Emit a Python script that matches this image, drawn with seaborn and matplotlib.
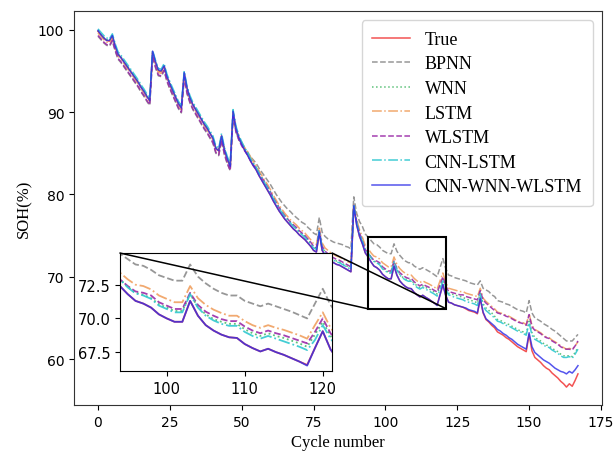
import numpy as np
import pandas as pd
import matplotlib
matplotlib.use("Agg")
import matplotlib.pyplot as plt
import seaborn as sns
from matplotlib.patches import Rectangle, ConnectionPatch

cycles = list(range(168))

true_soh = [
    99.8, 99.4, 99.0, 98.7, 98.6, 99.2, 98.0, 97.0, 96.6, 96.1,
    95.6, 95.1, 94.6, 94.1, 93.6, 93.0, 92.5, 91.9, 91.4, 97.3,
    96.0, 95.0, 94.9, 95.6, 94.3, 93.4, 92.6, 91.8, 91.0, 90.5,
    94.7, 92.8, 91.7, 90.9, 90.3, 89.7, 89.1, 88.5, 88.0, 87.4,
    86.8, 85.6, 85.3, 87.1, 85.4, 84.3, 83.4, 90.0, 88.0, 86.9,
    86.1, 85.4, 84.8, 84.1, 83.5, 83.0, 82.3, 81.7, 81.1, 80.5,
    79.9, 79.2, 78.6, 78.0, 77.5, 77.0, 76.6, 76.2, 75.8, 75.5,
    75.1, 74.8, 74.5, 74.1, 73.7, 73.2, 73.0, 75.3, 73.2, 72.6,
    72.2, 71.9, 71.7, 71.5, 71.4, 71.2, 71.0, 70.8, 70.6, 78.5,
    76.3, 74.9, 74.0, 72.9, 72.4, 71.8, 71.3, 71.1, 70.8, 70.3,
    70.0, 69.75, 69.75, 71.3, 70.2, 69.5, 69.1, 68.8, 68.6, 68.55,
    68.1, 67.8, 67.55, 67.75, 67.5, 67.3, 67.05, 66.8, 66.55, 67.8,
    69.05, 67.7, 66.9, 66.8, 66.6, 66.5, 66.4, 66.3, 66.1, 65.9,
    65.8, 65.7, 65.5, 67.3, 65.6, 64.8, 64.5, 64.1, 63.8, 63.3,
    63.1, 62.9, 62.6, 62.4, 62.1, 61.8, 61.5, 61.3, 61.1, 60.9,
    63.0, 61.0, 60.2, 59.9, 59.6, 59.2, 58.9, 58.7, 58.3, 58.0,
    57.7, 57.3, 57.0, 56.6, 57.0, 56.7, 57.4, 58.2,
]

bpnn = [
    99.2, 98.8, 98.4, 98.1, 98.0, 98.6, 97.4, 96.4, 96.0, 95.5,
    95.0, 94.5, 94.0, 93.5, 93.0, 92.4, 91.9, 91.3, 90.8, 96.7,
    95.4, 94.4, 94.3, 95.0, 93.7, 92.8, 92.0, 91.2, 90.4, 89.9,
    94.1, 92.2, 91.1, 90.3, 89.7, 89.1, 88.5, 87.9, 87.4, 86.8,
    86.2, 85.0, 84.7, 86.5, 84.8, 83.7, 82.9, 89.4, 87.6, 86.7,
    86.1, 85.6, 85.2, 84.6, 84.2, 83.8, 83.2, 82.7, 82.2, 81.7,
    81.2, 80.6, 80.0, 79.5, 79.0, 78.6, 78.2, 77.9, 77.5, 77.2,
    76.9, 76.6, 76.4, 76.0, 75.7, 75.3, 75.1, 77.2, 75.4, 74.9,
    74.6, 74.4, 74.2, 74.1, 74.0, 73.9, 73.7, 73.6, 73.4, 79.7,
    77.7, 76.7, 76.1, 75.2, 74.8, 74.4, 74.0, 73.9, 73.6, 73.2,
    73.0, 72.8, 72.8, 74.0, 73.1, 72.6, 72.2, 71.9, 71.7, 71.7,
    71.3, 71.1, 70.9, 71.1, 70.9, 70.7, 70.5, 70.25, 70.0, 71.1,
    72.2, 71.0, 70.2, 70.1, 69.9, 69.8, 69.7, 69.6, 69.5, 69.3,
    69.2, 69.1, 69.0, 69.5, 68.6, 68.4, 68.2, 67.8, 67.6, 67.1,
    67.0, 66.9, 66.7, 66.6, 66.4, 66.2, 66.0, 65.9, 65.8, 65.6,
    67.1, 65.6, 65.0, 64.8, 64.6, 64.3, 64.1, 63.9, 63.6, 63.4,
    63.1, 62.8, 62.5, 62.2, 62.2, 62.2, 62.6, 63.0,
]

wnn = [
    99.9, 99.5, 99.1, 98.8, 98.7, 99.3, 98.1, 97.1, 96.7, 96.2,
    95.7, 95.2, 94.7, 94.2, 93.7, 93.1, 92.6, 92.0, 91.5, 97.3,
    96.1, 95.1, 95.0, 95.6, 94.4, 93.5, 92.7, 91.9, 91.1, 90.6,
    94.7, 92.9, 91.8, 91.0, 90.4, 89.8, 89.2, 88.6, 88.1, 87.5,
    86.9, 85.7, 85.4, 87.1, 85.5, 84.4, 83.5, 90.0, 88.1, 87.0,
    86.3, 85.6, 85.0, 84.4, 83.8, 83.3, 82.6, 82.0, 81.5, 80.9,
    80.3, 79.6, 79.0, 78.4, 77.9, 77.4, 77.0, 76.6, 76.2, 75.9,
    75.5, 75.2, 74.9, 74.5, 74.1, 73.6, 73.4, 75.6, 73.6, 73.0,
    72.6, 72.3, 72.1, 71.9, 71.8, 71.6, 71.4, 71.2, 71.0, 78.7,
    76.7, 75.3, 74.4, 73.3, 72.9, 72.35, 71.9, 71.75, 71.5, 71.05,
    70.8, 70.55, 70.55, 71.8, 70.85, 70.3, 69.95, 69.75, 69.6, 69.6,
    69.2, 68.9, 68.7, 68.9, 68.7, 68.55, 68.35, 68.15, 67.9, 68.8,
    69.75, 68.7, 68.0, 67.9, 67.8, 67.7, 67.6, 67.5, 67.3, 67.2,
    67.1, 67.0, 66.8, 68.0, 66.7, 66.2, 65.9, 65.6, 65.2, 64.8,
    64.7, 64.5, 64.3, 64.2, 64.0, 63.8, 63.6, 63.4, 63.3, 63.1,
    64.6, 63.2, 62.6, 62.4, 62.2, 61.9, 61.7, 61.6, 61.3, 61.1,
    60.9, 60.6, 60.4, 60.4, 60.4, 60.3, 60.8, 61.4,
]

lstm = [
    99.6, 99.2, 98.8, 98.5, 98.4, 99.0, 97.8, 96.8, 96.4, 95.9,
    95.4, 94.9, 94.4, 93.9, 93.4, 92.8, 92.3, 91.7, 91.2, 97.1,
    95.8, 94.8, 94.7, 95.4, 94.1, 93.2, 92.4, 91.6, 90.8, 90.3,
    94.5, 92.6, 91.5, 90.7, 90.1, 89.5, 88.9, 88.3, 87.8, 87.2,
    86.6, 85.4, 85.1, 86.9, 85.2, 84.1, 83.3, 89.9, 88.0, 87.0,
    86.3, 85.7, 85.2, 84.6, 84.0, 83.5, 82.9, 82.3, 81.7, 81.2,
    80.6, 79.9, 79.3, 78.7, 78.2, 77.7, 77.3, 76.9, 76.6, 76.3,
    75.9, 75.6, 75.3, 74.9, 74.5, 74.0, 73.9, 75.9, 74.1, 73.5,
    73.2, 72.9, 72.7, 72.5, 72.4, 72.2, 72.0, 71.8, 71.7, 78.9,
    77.0, 75.7, 74.8, 73.8, 73.4, 72.9, 72.5, 72.4, 72.15, 71.7,
    71.45, 71.2, 71.2, 72.4, 71.5, 71.0, 70.65, 70.4, 70.2, 70.2,
    69.8, 69.5, 69.3, 69.5, 69.3, 69.15, 68.95, 68.75, 68.5, 69.5,
    70.45, 69.3, 68.6, 68.5, 68.4, 68.3, 68.2, 68.2, 68.0, 67.9,
    67.8, 67.7, 67.6, 68.6, 67.4, 67.0, 66.7, 66.4, 66.1, 65.7,
    65.6, 65.5, 65.3, 65.2, 65.0, 64.8, 64.6, 64.5, 64.4, 64.2,
    65.5, 64.1, 63.6, 63.4, 63.2, 62.9, 62.7, 62.6, 62.3, 62.1,
    61.9, 61.6, 61.4, 61.2, 61.3, 61.2, 61.6, 62.1,
]

wlstm = [
    99.3, 98.9, 98.5, 98.2, 98.1, 98.7, 97.5, 96.5, 96.1, 95.6,
    95.1, 94.6, 94.1, 93.6, 93.1, 92.5, 92.0, 91.4, 90.9, 96.8,
    95.5, 94.5, 94.4, 95.1, 93.8, 92.9, 92.1, 91.3, 90.5, 90.0,
    94.2, 92.3, 91.2, 90.4, 89.8, 89.2, 88.6, 88.0, 87.5, 86.9,
    86.3, 85.1, 84.8, 86.6, 84.9, 83.8, 82.9, 89.5, 87.6, 86.6,
    85.9, 85.3, 84.8, 84.2, 83.6, 83.2, 82.6, 82.0, 81.5, 80.9,
    80.3, 79.6, 79.0, 78.4, 77.9, 77.4, 77.0, 76.6, 76.3, 76.0,
    75.6, 75.3, 75.0, 74.6, 74.2, 73.7, 73.5, 75.6, 73.7, 73.1,
    72.8, 72.5, 72.3, 72.1, 72.0, 71.8, 71.6, 71.4, 71.2, 78.7,
    76.7, 75.3, 74.4, 73.3, 72.9, 72.4, 72.0, 71.9, 71.7, 71.2,
    70.95, 70.7, 70.7, 71.9, 71.0, 70.5, 70.2, 69.95, 69.8, 69.8,
    69.4, 69.1, 68.9, 69.1, 68.9, 68.75, 68.55, 68.35, 68.15, 69.0,
    70.0, 68.9, 68.2, 68.1, 68.0, 67.9, 67.8, 67.8, 67.6, 67.5,
    67.4, 67.3, 67.2, 68.3, 67.2, 66.8, 66.5, 66.2, 65.9, 65.6,
    65.5, 65.4, 65.2, 65.1, 64.9, 64.7, 64.5, 64.4, 64.3, 64.1,
    65.4, 63.9, 63.5, 63.3, 63.1, 62.8, 62.6, 62.5, 62.2, 62.0,
    61.8, 61.5, 61.3, 61.2, 61.2, 61.1, 61.6, 62.2,
]

cnn_lstm = [
    100.1, 99.7, 99.3, 99.0, 98.9, 99.5, 98.3, 97.3, 96.9, 96.4,
    95.9, 95.4, 94.9, 94.4, 93.9, 93.3, 92.8, 92.2, 91.7, 97.5,
    96.3, 95.3, 95.2, 95.9, 94.6, 93.7, 92.9, 92.1, 91.3, 90.8,
    95.0, 93.1, 92.0, 91.2, 90.6, 90.0, 89.4, 88.8, 88.3, 87.7,
    87.1, 85.9, 85.6, 87.4, 85.7, 84.6, 83.7, 90.3, 88.3, 87.2,
    86.4, 85.7, 85.1, 84.4, 83.8, 83.3, 82.6, 82.0, 81.4, 80.8,
    80.2, 79.5, 78.9, 78.3, 77.8, 77.3, 76.9, 76.5, 76.1, 75.8,
    75.4, 75.1, 74.8, 74.4, 74.0, 73.5, 73.3, 75.6, 73.5, 72.9,
    72.5, 72.2, 72.0, 71.8, 71.7, 71.5, 71.3, 71.1, 70.9, 78.8,
    76.6, 75.2, 74.3, 73.2, 72.9, 72.3, 71.85, 71.7, 71.45, 70.95,
    70.7, 70.45, 70.45, 71.8, 70.8, 70.2, 69.85, 69.6, 69.45, 69.45,
    69.0, 68.7, 68.5, 68.7, 68.5, 68.3, 68.1, 67.9, 67.65, 68.4,
    69.5, 68.5, 67.8, 67.7, 67.5, 67.4, 67.3, 67.2, 67.0, 66.9,
    66.8, 66.7, 66.5, 67.9, 66.4, 65.9, 65.6, 65.3, 65.0, 64.6,
    64.5, 64.3, 64.1, 64.0, 63.8, 63.6, 63.4, 63.3, 63.1, 62.9,
    64.4, 62.9, 62.4, 62.2, 62.0, 61.7, 61.5, 61.4, 61.1, 60.9,
    60.7, 60.4, 60.2, 60.2, 60.3, 60.1, 60.6, 61.2,
]

cnn_wnn_wlstm = [
    99.9, 99.4, 99.0, 98.7, 98.7, 99.3, 98.0, 97.0, 96.6, 96.1,
    95.6, 95.1, 94.6, 94.1, 93.6, 93.0, 92.5, 91.9, 91.4, 97.4,
    96.1, 95.1, 95.0, 95.6, 94.3, 93.4, 92.6, 91.8, 91.0, 90.5,
    94.8, 92.9, 91.7, 90.9, 90.3, 89.7, 89.1, 88.5, 88.0, 87.4,
    86.8, 85.6, 85.3, 87.1, 85.4, 84.3, 83.4, 90.1, 88.0, 86.9,
    86.1, 85.4, 84.8, 84.1, 83.5, 83.0, 82.3, 81.7, 81.1, 80.5,
    79.9, 79.2, 78.6, 78.0, 77.5, 77.0, 76.6, 76.2, 75.8, 75.5,
    75.1, 74.8, 74.5, 74.1, 73.7, 73.2, 73.0, 75.4, 73.2, 72.6,
    72.2, 71.9, 71.7, 71.5, 71.4, 71.2, 71.0, 70.8, 70.6, 78.6,
    76.3, 74.9, 74.0, 72.9, 72.4, 71.8, 71.3, 71.1, 70.8, 70.3,
    70.0, 69.75, 69.75, 71.3, 70.2, 69.5, 69.1, 68.8, 68.6, 68.55,
    68.1, 67.8, 67.55, 67.75, 67.5, 67.3, 67.05, 66.8, 66.5, 67.8,
    69.05, 67.7, 66.9, 66.8, 66.6, 66.5, 66.4, 66.3, 66.2, 66.0,
    65.9, 65.8, 65.6, 67.4, 65.7, 64.9, 64.6, 64.3, 64.0, 63.6,
    63.4, 63.1, 62.9, 62.6, 62.4, 62.1, 61.8, 61.6, 61.4, 61.2,
    63.2, 61.5, 60.8, 60.5, 60.2, 59.9, 59.7, 59.5, 59.2, 58.9,
    58.7, 58.5, 58.4, 58.2, 58.5, 58.3, 58.7, 59.2,
]

series_names = ["True", "BPNN", "WNN", "LSTM", "WLSTM", "CNN-LSTM", "CNN-WNN-WLSTM"]
series_values = [true_soh, bpnn, wnn, lstm, wlstm, cnn_lstm, cnn_wnn_wlstm]
series_colors = ["#f03535", "#8c8c8c", "#4cbb6c", "#f0a060", "#9a2aa8", "#30c8d0", "#2a2ae8"]
series_styles = ["-", "--", ":", "-.", "--", "-.", "-"]
series_alpha = [0.85, 0.9, 0.9, 0.9, 0.9, 0.9, 0.8]

inset_xlim = (94, 121.2)
inset_ylim = (66.1, 74.85)

df = pd.DataFrame({"cycle": cycles})
for name, vals in zip(series_names, series_values):
    df[name] = vals

fig = plt.figure(figsize=(6.15, 4.52), dpi=100)
ax = fig.add_axes([0.1203, 0.1018, 0.8585, 0.8717])

def draw(axis, lw, with_label):
    for name, col, ls, al in zip(series_names, series_colors, series_styles, series_alpha):
        sns.lineplot(data=df, x="cycle", y=name, ax=axis, color=col, linestyle=ls,
                     linewidth=lw, alpha=al, label=name if with_label else None,
                     legend=False)

draw(ax, 1.1, True)
ax.set_xlabel("Cycle number", fontfamily="Liberation Serif", fontsize=12)
ax.set_ylabel("SOH(%)", fontfamily="Liberation Serif", fontsize=12)
ax.set_xticks([0, 25, 50, 75, 100, 125, 150, 175])
ax.set_yticks([60, 70, 80, 90, 100])
ax.margins(x=0.05, y=0.05)
for s in ax.spines.values():
    s.set_color("#333333")
leg = ax.legend(loc="upper right", prop={"family": "Liberation Serif", "size": 13},
                handlelength=2.1, borderpad=0.6, labelspacing=0.42, frameon=True)

# inset
axins = fig.add_axes([0.195, 0.177, 0.345, 0.261])
draw(axins, 1.3, False)
axins.set_xlim(*inset_xlim)
axins.set_ylim(*inset_ylim)
axins.set_xlabel("")
axins.set_ylabel("")
axins.set_xticks([100, 110, 120])
axins.set_yticks([67.5, 70.0, 72.5])
axins.yaxis.set_major_formatter(matplotlib.ticker.FormatStrFormatter("%.1f"))
axins.tick_params(labelsize=10.5)

rect = Rectangle((inset_xlim[0], inset_ylim[0]), inset_xlim[1] - inset_xlim[0],
                 inset_ylim[1] - inset_ylim[0], fill=False, edgecolor="black", linewidth=1.5,
                 zorder=5)
ax.add_patch(rect)
for ins_corner, main_x in [((0, 1), inset_xlim[0]), ((1, 1), inset_xlim[1])]:
    con = ConnectionPatch(xyA=ins_corner, coordsA=axins.transAxes,
                          xyB=(main_x, inset_ylim[0]), coordsB=ax.transData,
                          color="black", linewidth=1.1, zorder=10)
    fig.add_artist(con)

fig.savefig("out.png", dpi=100)
